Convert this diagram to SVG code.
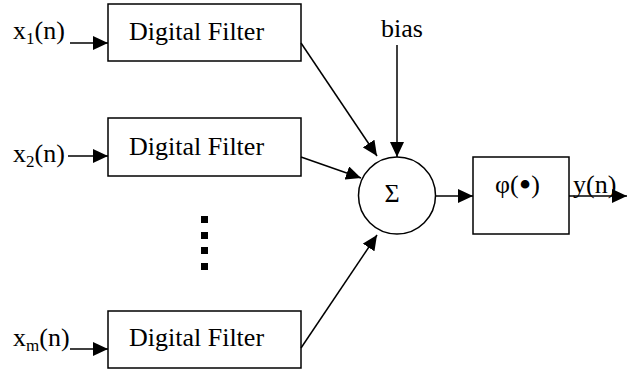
<svg xmlns="http://www.w3.org/2000/svg" width="636" height="373" viewBox="0 0 636 373">
<defs>
<marker id="ah" markerUnits="userSpaceOnUse" markerWidth="16" markerHeight="14" refX="15" refY="7" orient="auto">
<path d="M0,0 L15,7 L0,14 z" fill="#000"/>
</marker>
<style>
.t{font-family:"Liberation Serif","Times New Roman",serif;font-size:26px;fill:#000}
.s{font-size:17px}
.b{fill:#fff;stroke:#000;stroke-width:1.5}
.c{stroke:#000;stroke-width:1.5;fill:none;marker-end:url(#ah)}
</style>
</defs>
<rect width="636" height="373" fill="#fff"/>
<g id="filter1"><rect class="b" x="108" y="4" width="193" height="57"/><text class="t" x="129" y="40">Digital Filter</text></g>
<g id="filter2"><rect class="b" x="108" y="118" width="193" height="58"/><text class="t" x="129" y="155">Digital Filter</text></g>
<g id="filter3"><rect class="b" x="108" y="311" width="193" height="57"/><text class="t" x="129" y="346">Digital Filter</text></g>
<g id="in1"><text class="t" x="13" y="39">x<tspan class="s" dy="5">1</tspan><tspan dy="-5">(n)</tspan></text></g>
<g id="in2"><text class="t" x="13" y="162">x<tspan class="s" dy="5">2</tspan><tspan dy="-5">(n)</tspan></text></g>
<g id="inm"><text class="t" x="13" y="346">x<tspan class="s" dy="5">m</tspan><tspan dy="-5">(n)</tspan></text></g>
<g id="dots" fill="#000"><rect x="201" y="216" width="7" height="7"/><rect x="201" y="232" width="7" height="7"/><rect x="201" y="247" width="7" height="7"/><rect x="201" y="263" width="7" height="7"/></g>
<g id="bias"><text class="t" x="381" y="37">bias</text></g>
<g id="sum"><circle class="b" cx="397" cy="195.5" r="38.5"/><text class="t" x="392" y="202" text-anchor="middle">Σ</text></g>
<g id="phi"><rect class="b" x="473" y="157" width="96" height="77"/><text class="t" x="495" y="193">φ(<tspan font-size="36" dy="4">•</tspan><tspan dy="-4">)</tspan></text></g>
<g id="out"><text class="t" x="573" y="193">y(n)</text></g>
<g id="connectors">
<line class="c" x1="70" y1="43" x2="108" y2="43"/>
<line class="c" x1="68" y1="156" x2="108" y2="156"/>
<line class="c" x1="70" y1="349" x2="108" y2="349"/>
<line class="c" x1="301" y1="43" x2="377" y2="156"/>
<line class="c" x1="301" y1="157" x2="361" y2="178"/>
<line class="c" x1="301" y1="348" x2="377" y2="235"/>
<line class="c" x1="397" y1="45" x2="397" y2="157"/>
<line class="c" x1="436" y1="196" x2="473" y2="196"/>
<line class="c" x1="569" y1="196" x2="627" y2="196"/>
</g>
</svg>
